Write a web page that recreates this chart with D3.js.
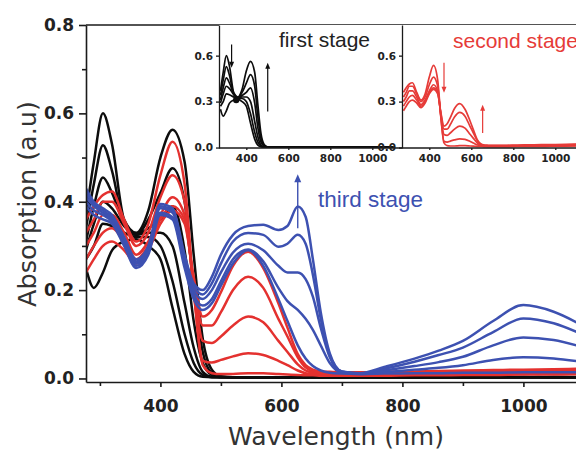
<!DOCTYPE html>
<html>
<head>
<meta charset="utf-8">
<script src="https://cdn.jsdelivr.net/npm/d3@7"></script>
<style>
  body { margin: 0; background: #fff; }
  svg { display: block; }
</style>
</head>
<body>
<svg id="chart" width="576" height="455"></svg>
<script>
// Wavelength grid (nm) shared by every spectrum
const wavelengths = [277, 290, 305, 320, 340, 360, 380, 400, 420, 440, 455, 470, 485, 500, 520, 545, 570, 595, 610, 627, 640, 652, 665, 680, 700, 730, 770, 820, 860, 900, 950, 1000, 1050, 1100];

// First stage spectra (black)
const firstStage = [
  [0.37, 0.49, 0.60, 0.53, 0.36, 0.33, 0.38, 0.50, 0.563, 0.49, 0.28, 0.09, 0.02, 0.005, 0.003, 0.003, 0.002, 0.003, 0.003, 0.004, 0.003, 0.003, 0.002, 0.003, 0.003, 0.003, 0.003, 0.002, 0.003, 0.003, 0.004, 0.003, 0.003, 0.003],
  [0.34, 0.44, 0.528, 0.47, 0.35, 0.325, 0.36, 0.42, 0.476, 0.40, 0.20, 0.06, 0.012, 0.004, 0.003, 0.003, 0.003, 0.002, 0.003, 0.003, 0.003, 0.004, 0.003, 0.003, 0.002, 0.003, 0.003, 0.003, 0.003, 0.002, 0.003, 0.003, 0.004, 0.003],
  [0.31, 0.39, 0.455, 0.42, 0.35, 0.325, 0.34, 0.36, 0.39, 0.29, 0.13, 0.035, 0.008, 0.003, 0.003, 0.002, 0.003, 0.003, 0.003, 0.003, 0.002, 0.003, 0.003, 0.003, 0.003, 0.004, 0.003, 0.003, 0.002, 0.003, 0.003, 0.003, 0.003, 0.003],
  [0.29, 0.35, 0.40, 0.385, 0.345, 0.325, 0.33, 0.33, 0.30, 0.17, 0.07, 0.015, 0.004, 0.003, 0.003, 0.003, 0.003, 0.003, 0.002, 0.003, 0.003, 0.003, 0.003, 0.003, 0.003, 0.003, 0.002, 0.003, 0.003, 0.003, 0.003, 0.004, 0.003, 0.003],
  [0.27, 0.30, 0.35, 0.345, 0.33, 0.32, 0.32, 0.30, 0.22, 0.10, 0.035, 0.008, 0.003, 0.003, 0.003, 0.003, 0.003, 0.003, 0.003, 0.002, 0.003, 0.003, 0.003, 0.003, 0.003, 0.003, 0.003, 0.003, 0.003, 0.003, 0.002, 0.003, 0.003, 0.003],
  [0.25, 0.205, 0.24, 0.29, 0.31, 0.315, 0.30, 0.27, 0.16, 0.055, 0.015, 0.004, 0.003, 0.003, 0.003, 0.003, 0.003, 0.003, 0.003, 0.003, 0.003, 0.002, 0.003, 0.003, 0.003, 0.003, 0.003, 0.003, 0.003, 0.003, 0.003, 0.003, 0.002, 0.003]
];

// Second stage spectra (red)
const secondStage = [
  [0.36, 0.39, 0.415, 0.423, 0.36, 0.31, 0.35, 0.46, 0.536, 0.44, 0.20, 0.03, 0.012, 0.010, 0.010, 0.012, 0.012, 0.010, 0.009, 0.008, 0.007, 0.007, 0.006, 0.006, 0.006, 0.006, 0.006, 0.007, 0.007, 0.008, 0.008, 0.009, 0.009, 0.010],
  [0.33, 0.36, 0.40, 0.40, 0.35, 0.30, 0.33, 0.41, 0.46, 0.40, 0.20, 0.04, 0.036, 0.042, 0.050, 0.057, 0.053, 0.040, 0.030, 0.018, 0.012, 0.010, 0.009, 0.008, 0.008, 0.008, 0.008, 0.009, 0.009, 0.010, 0.010, 0.011, 0.012, 0.012],
  [0.30, 0.33, 0.37, 0.37, 0.33, 0.28, 0.31, 0.37, 0.41, 0.37, 0.21, 0.085, 0.080, 0.095, 0.120, 0.140, 0.127, 0.085, 0.060, 0.032, 0.018, 0.013, 0.011, 0.010, 0.010, 0.010, 0.010, 0.011, 0.012, 0.012, 0.013, 0.014, 0.015, 0.015],
  [0.27, 0.30, 0.33, 0.34, 0.31, 0.27, 0.30, 0.36, 0.39, 0.36, 0.22, 0.12, 0.12, 0.15, 0.20, 0.23, 0.205, 0.135, 0.095, 0.048, 0.025, 0.016, 0.013, 0.012, 0.012, 0.012, 0.012, 0.013, 0.014, 0.015, 0.016, 0.017, 0.018, 0.019],
  [0.24, 0.27, 0.30, 0.31, 0.29, 0.26, 0.29, 0.35, 0.38, 0.35, 0.23, 0.14, 0.155, 0.195, 0.255, 0.287, 0.25, 0.17, 0.115, 0.055, 0.030, 0.020, 0.016, 0.015, 0.014, 0.014, 0.015, 0.016, 0.017, 0.018, 0.019, 0.020, 0.021, 0.022]
];

// Third stage spectra (blue)
const thirdStage = [
  [0.39, 0.37, 0.36, 0.35, 0.30, 0.25, 0.28, 0.37, 0.36, 0.25, 0.18, 0.155, 0.17, 0.21, 0.26, 0.29, 0.255, 0.18, 0.13, 0.075, 0.045, 0.028, 0.018, 0.013, 0.011, 0.010, 0.011, 0.012, 0.012, 0.013, 0.013, 0.014, 0.014, 0.014],
  [0.40, 0.38, 0.37, 0.355, 0.305, 0.255, 0.285, 0.375, 0.365, 0.26, 0.19, 0.165, 0.18, 0.22, 0.27, 0.292, 0.265, 0.205, 0.175, 0.155, 0.135, 0.11, 0.075, 0.035, 0.013, 0.010, 0.014, 0.020, 0.024, 0.030, 0.042, 0.048, 0.045, 0.037],
  [0.41, 0.39, 0.375, 0.36, 0.31, 0.26, 0.29, 0.385, 0.375, 0.27, 0.20, 0.18, 0.20, 0.24, 0.285, 0.305, 0.29, 0.255, 0.24, 0.24, 0.225, 0.185, 0.115, 0.048, 0.015, 0.011, 0.018, 0.028, 0.037, 0.049, 0.075, 0.093, 0.087, 0.070],
  [0.42, 0.395, 0.38, 0.365, 0.315, 0.265, 0.295, 0.39, 0.38, 0.275, 0.21, 0.19, 0.215, 0.26, 0.31, 0.329, 0.325, 0.298, 0.305, 0.325, 0.305, 0.235, 0.135, 0.052, 0.015, 0.011, 0.022, 0.038, 0.053, 0.070, 0.105, 0.136, 0.125, 0.098],
  [0.43, 0.40, 0.385, 0.37, 0.32, 0.27, 0.30, 0.395, 0.385, 0.28, 0.215, 0.20, 0.23, 0.28, 0.325, 0.345, 0.348, 0.336, 0.345, 0.389, 0.366, 0.27, 0.15, 0.057, 0.016, 0.012, 0.026, 0.045, 0.063, 0.085, 0.13, 0.166, 0.151, 0.118]
];

// Axis ticks
const xMajorTicks = [400, 600, 800, 1000];
const xMinorTicks = [300, 500, 700, 900, 1100];
const yMajorTicks = [0.0, 0.2, 0.4, 0.6, 0.8];
const yMinorTicks = [0.1, 0.3, 0.5, 0.7];
const insetXTicks = [400, 600, 800, 1000];
const insetYTicks = [0.0, 0.3, 0.6];

// Isosbestic point of the first stage
const isosbestic = [352, 0.31];

// Arrows: [wavelength, from absorbance, to absorbance]
const firstStageArrows = [[330, 0.672, 0.521], [502, 0.235, 0.554]];
const secondStageArrows = [[470, 0.554, 0.357], [654, 0.095, 0.279]];
const thirdStageArrows = [[627, 0.34, 0.462]];

const BLACK = "#0d0d0d", RED = "#e4312f", BLUE = "#3d51b1", AXIS = "#1a1a1a";
const INSET_RED = "#e63b38";
const TICK_FONT = "'DejaVu Sans', Verdana, sans-serif";
const LABEL_FONT = "'Liberation Sans', Arial, sans-serif";

const svg = d3.select("#chart");
const defs = svg.append("defs");

// ---------- main panel ----------
const x = d3.scaleLinear().domain([277, 1100]).range([86, 583.9]);
const y = d3.scaleLinear().domain([-0.008, 0.8]).range([382, 25]);

defs.append("clipPath").attr("id", "clip-main")
  .append("rect").attr("x", 86).attr("y", 25).attr("width", 490).attr("height", 357);

const spectrumLine = (xs, ys) => d3.line()
  .x((d, i) => xs(wavelengths[i]))
  .y(d => ys(d))
  .curve(d3.curveMonotoneX);

const mainG = svg.append("g").attr("clip-path", "url(#clip-main)");
[[firstStage, BLACK], [secondStage, RED], [thirdStage, BLUE]].forEach(([set, col]) => {
  set.forEach(s => {
    mainG.append("path")
      .attr("d", spectrumLine(x, y)(s))
      .attr("fill", "none")
      .attr("stroke", col)
      .attr("stroke-width", 2.5)
      .attr("stroke-linejoin", "round");
  });
});

function styleAxis(g, size) {
  g.selectAll("path, line").attr("stroke", AXIS).attr("stroke-width", 1.6);
  g.selectAll("text")
    .attr("font-family", TICK_FONT)
    .attr("font-weight", "bold")
    .attr("font-size", size)
    .attr("fill", "#222");
}

// top frame line
svg.append("line").attr("x1", 86).attr("x2", 576).attr("y1", 25).attr("y2", 25)
  .attr("stroke", AXIS).attr("stroke-width", 1.6);

const yAx = svg.append("g").attr("transform", "translate(86,0)")
  .call(d3.axisLeft(y).tickValues(yMajorTicks).tickFormat(d3.format(".1f"))
    .tickSize(7).tickSizeOuter(0).tickPadding(5));
styleAxis(yAx, 17);
const yAxMinor = svg.append("g").attr("transform", "translate(86,0)")
  .call(d3.axisLeft(y).tickValues(yMinorTicks).tickFormat("").tickSize(4).tickSizeOuter(0));
yAxMinor.select(".domain").remove();
styleAxis(yAxMinor, 17);

const xAx = svg.append("g").attr("transform", "translate(0,382)")
  .call(d3.axisBottom(x).tickValues(xMajorTicks).tickFormat(d3.format("d"))
    .tickSize(5).tickSizeOuter(0).tickPadding(13));
styleAxis(xAx, 17);
const xAxMinor = svg.append("g").attr("transform", "translate(0,382)")
  .call(d3.axisBottom(x).tickValues(xMinorTicks).tickFormat("").tickSize(4).tickSizeOuter(0));
xAxMinor.select(".domain").remove();
styleAxis(xAxMinor, 17);

// axis titles
svg.append("text")
  .attr("x", 336).attr("y", 445)
  .attr("text-anchor", "middle")
  .attr("font-family", TICK_FONT).attr("font-size", 25)
  .attr("fill", "#333")
  .text("Wavelength (nm)");
svg.append("text")
  .attr("transform", "translate(36,204) rotate(-90)")
  .attr("text-anchor", "middle")
  .attr("font-family", TICK_FONT).attr("font-size", 25.5)
  .attr("fill", "#333")
  .text("Absorption (a.u)");

// ---------- insets ----------
const yi = d3.scaleLinear().domain([-0.003, 0.8]).range([148, 25]);

function drawInset(x0, width, data, col, id) {
  const xi = d3.scaleLinear().domain([270, 1150]).range([x0, x0 + 184.8]);
  const g = svg.append("g");
  g.append("rect").attr("x", x0).attr("y", 25).attr("width", width).attr("height", 123)
    .attr("fill", "#fff");
  defs.append("clipPath").attr("id", id)
    .append("rect").attr("x", x0).attr("y", 25).attr("width", width).attr("height", 123);
  const lines = g.append("g").attr("clip-path", `url(#${id})`);
  data.forEach(s => {
    lines.append("path")
      .attr("d", spectrumLine(xi, yi)(s))
      .attr("fill", "none")
      .attr("stroke", col)
      .attr("stroke-width", 1.7)
      .attr("stroke-linejoin", "round");
  });
  const ya = g.append("g").attr("transform", `translate(${x0},0)`)
    .call(d3.axisLeft(yi).tickValues(insetYTicks).tickFormat(d3.format(".1f"))
      .tickSize(3).tickSizeOuter(0).tickPadding(3));
  styleAxis(ya, 10.5);
  ya.selectAll("path, line").attr("stroke-width", 1.3);
  const xa = g.append("g").attr("transform", "translate(0,148)")
    .call(d3.axisBottom(xi).tickValues(insetXTicks).tickFormat(d3.format("d"))
      .tickSize(2).tickSizeOuter(0).tickPadding(5));
  xa.select(".domain").attr("d", `M${x0},0H${x0 + width}`);
  styleAxis(xa, 10.5);
  xa.selectAll("path, line").attr("stroke-width", 1.3);
  return { xi, g };
}

function drawArrow(xs, ys, a, col, len, half, sw) {
  const [w, from, to] = a;
  const px = xs(w), y0 = ys(from), y1 = ys(to);
  const dir = y1 < y0 ? -1 : 1;
  svg.append("line").attr("x1", px).attr("x2", px).attr("y1", y0).attr("y2", y1 - dir * len * 0.6)
    .attr("stroke", col).attr("stroke-width", sw);
  svg.append("path")
    .attr("d", `M${px},${y1}L${px - half},${y1 - dir * len}L${px + half},${y1 - dir * len}Z`)
    .attr("fill", col);
}

const inset1 = drawInset(219, 183, firstStage, BLACK, "clip-in1");
inset1.g.append("circle")
  .attr("cx", inset1.xi(isosbestic[0])).attr("cy", yi(isosbestic[1])).attr("r", 3.2)
  .attr("fill", BLACK);
firstStageArrows.forEach(a => drawArrow(inset1.xi, yi, a, BLACK, 6, 2.5, 1.2));

const inset2 = drawInset(402, 174, secondStage, INSET_RED, "clip-in2");
secondStageArrows.forEach(a => drawArrow(inset2.xi, yi, a, INSET_RED, 6, 2.5, 1.2));

thirdStageArrows.forEach(a => drawArrow(x, y, a, BLUE, 8, 3.5, 1.4));

// stage labels
svg.append("text").attr("x", 279).attr("y", 47)
  .attr("font-family", LABEL_FONT).attr("font-size", 21).attr("fill", "#222")
  .text("first stage");
svg.append("text").attr("x", 453).attr("y", 48)
  .attr("font-family", LABEL_FONT).attr("font-size", 21).attr("fill", INSET_RED)
  .text("second stage");
svg.append("text").attr("x", 318).attr("y", 207)
  .attr("font-family", LABEL_FONT).attr("font-size", 22.5).attr("fill", BLUE)
  .text("third stage");
</script>
</body>
</html>
